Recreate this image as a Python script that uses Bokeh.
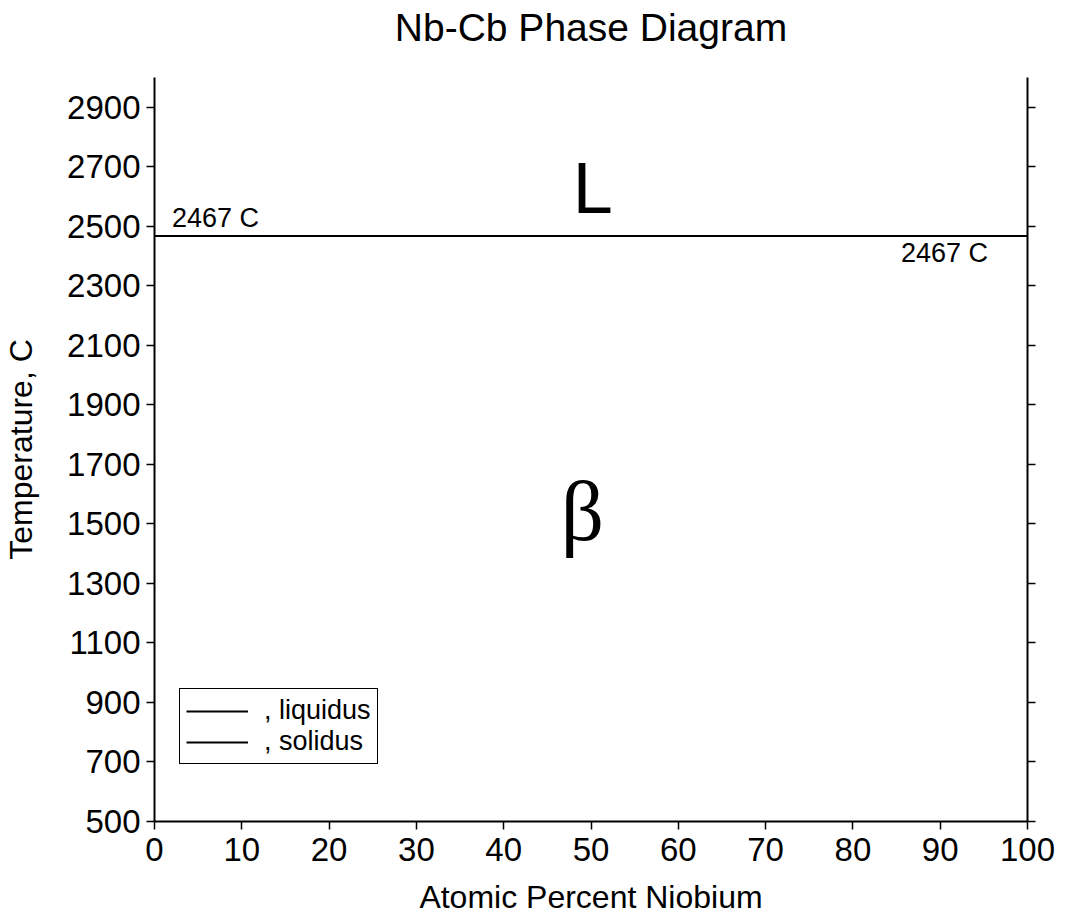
from bokeh.plotting import figure
from bokeh.models import LinearAxis, Legend, LegendItem, Range1d, FixedTicker
from bokeh.core.properties import value
from bokeh.embed import file_html
from bokeh.resources import INLINE

# ---- data ----
liquidus_x = [0, 100]
liquidus_t = [2467, 2467]
solidus_x = [0, 100]
solidus_t = [2467, 2467]
x_ticks = [0, 10, 20, 30, 40, 50, 60, 70, 80, 90, 100]
y_ticks = [500, 700, 900, 1100, 1300, 1500, 1700, 1900, 2100, 2300, 2500, 2700, 2900]
melt_label = "2467 C"
phase_labels = ["L", "β"]

FONT = "Liberation Sans"

p = figure(width=1060, height=921,
           x_range=Range1d(0, 100), y_range=Range1d(500, 3000),
           output_backend="svg", toolbar_location=None,
           min_border_left=154, min_border_right=33,
           min_border_top=77, min_border_bottom=100,
           title="Nb-Cb Phase Diagram")

p.title.text_font = FONT
p.title.text_font_size = "39px"
p.title.text_font_style = "normal"
p.title.text_color = "black"
p.title.align = "center"
p.title.standoff = 4
p.outline_line_color = None
p.xgrid.visible = False
p.ygrid.visible = False

for ax in (p.xaxis[0], p.yaxis[0]):
    ax.major_label_text_font = FONT
    ax.major_label_text_font_size = "33px"
    ax.major_label_text_color = "black"
    ax.axis_label_text_font = FONT
    ax.axis_label_text_font_size = "32px"
    ax.axis_label_text_font_style = "normal"
    ax.axis_label_text_color = "black"
    ax.axis_line_width = 2
    ax.axis_line_color = "black"
    ax.major_tick_line_width = 1.5
    ax.major_tick_line_color = "black"
    ax.major_tick_out = 8
    ax.major_tick_in = 0
    ax.minor_tick_line_color = None

p.xaxis[0].ticker = FixedTicker(ticks=x_ticks)
p.yaxis[0].ticker = FixedTicker(ticks=y_ticks)
p.xaxis[0].axis_label = "Atomic Percent Niobium"
p.yaxis[0].axis_label = "Temperature, C"
p.xaxis[0].major_label_standoff = 8
p.xaxis[0].axis_label_standoff = 15
p.yaxis[0].major_label_standoff = 6
p.yaxis[0].axis_label_standoff = 25

right = LinearAxis(ticker=FixedTicker(ticks=y_ticks),
                   major_label_overrides={t: "" for t in y_ticks},
                   major_label_standoff=0,
                   axis_line_width=2, axis_line_color="black",
                   major_tick_line_width=1.5, major_tick_line_color="black",
                   major_tick_out=8, major_tick_in=0,
                   minor_tick_line_color=None)
p.add_layout(right, "right")

# invisible spacer between the frame and the title
spacer = LinearAxis(ticker=FixedTicker(ticks=x_ticks),
                    major_label_overrides={t: "" for t in x_ticks},
                    major_label_standoff=0,
                    axis_line_color=None, major_tick_line_color=None,
                    major_tick_out=27, major_tick_in=0,
                    minor_tick_line_color=None)
p.add_layout(spacer, "above")

r1 = p.line(liquidus_x, liquidus_t, line_color="black", line_width=2)
r2 = p.line(solidus_x, solidus_t, line_color="black", line_width=2)

# annotations
p.text(x=[2], y=[2467], text=[melt_label], text_font=value(FONT),
       text_font_size="27px", text_align="left", text_baseline="alphabetic",
       y_offset=-18, text_color="black")
p.text(x=[85.5], y=[2467], text=[melt_label], text_font=value(FONT),
       text_font_size="27px", text_align="left", text_baseline="alphabetic",
       y_offset=17, text_color="black")
p.text(x=[50.2], y=[2536], text=[phase_labels[0]], text_font=value(FONT),
       text_font_size="72px", text_align="center", text_baseline="alphabetic",
       y_offset=-28, text_color="black")
p.text(x=[49], y=[1468], text=[phase_labels[1]], text_font=value("Liberation Serif"),
       text_font_size="85px", text_align="center", text_baseline="alphabetic",
       y_offset=-22, text_color="black")

legend = Legend(items=[LegendItem(label=", liquidus", renderers=[r1]),
                       LegendItem(label=", solidus", renderers=[r2])],
                location=(25, 57),
                label_text_font=FONT, label_text_font_size="27px",
                label_text_color="black",
                label_height=30, glyph_height=20, glyph_width=62,
                label_standoff=16, padding=6, spacing=0, margin=0,
                border_line_color="black", border_line_width=1.5,
                border_line_alpha=1,
                background_fill_color="white", background_fill_alpha=1)
p.add_layout(legend)

open("out.html", "w").write(file_html(p, INLINE))
